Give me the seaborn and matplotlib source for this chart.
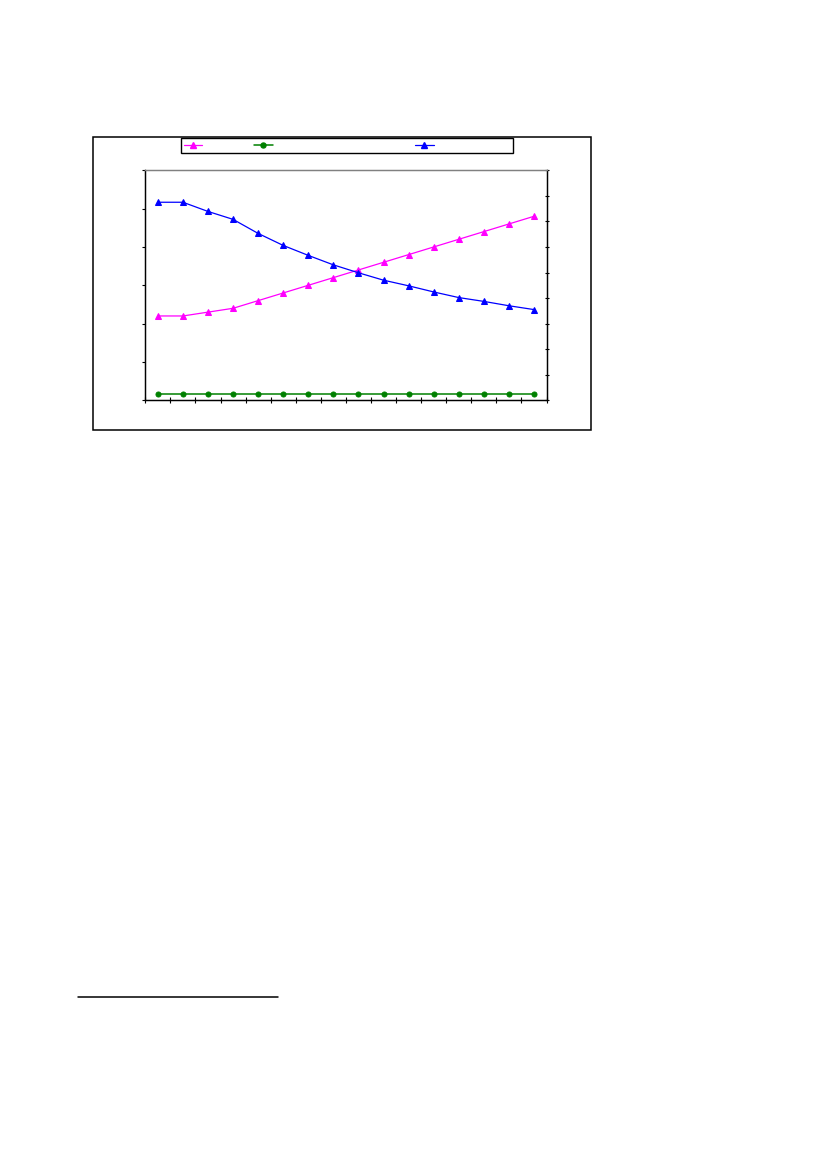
import numpy as np
import pandas as pd
import matplotlib
matplotlib.use("Agg")
import matplotlib.pyplot as plt
from matplotlib.patches import Rectangle
from matplotlib.lines import Line2D
import seaborn as sns

sns.set_style("white")
plt.rcParams['font.family'] = ['DejaVu Sans']

# 16 periods, no labels in the source picture
periods = list(range(1, 17))
pink_vals = [2.2, 2.2, 2.3, 2.4, 2.6, 2.8, 3.0, 3.2, 3.4, 3.6, 3.8, 4.0, 4.2, 4.4, 4.6, 4.8]
green_vals = [0.17, 0.17, 0.17, 0.17, 0.17, 0.17, 0.17, 0.17,
              0.17, 0.17, 0.17, 0.17, 0.17, 0.17, 0.17, 0.17]
blue_vals = [7.75, 7.75, 7.39, 7.08, 6.53, 6.06, 5.67, 5.30,
             4.99, 4.70, 4.48, 4.24, 4.02, 3.87, 3.70, 3.55]   # right axis

df = pd.DataFrame({"periodo": periods, "rosa": pink_vals, "verde": green_vals, "azul": blue_vals})

fig = plt.figure(figsize=(8.26, 11.69), dpi=100)
W, H = 826, 1169

# outer chart frame
fig.patches.append(Rectangle((93 / W, 1 - 430.3 / H), (591 - 93) / W, (430.3 - 136.7) / H,
                             transform=fig.transFigure, fill=False, ec="black", lw=1.1))
# footnote rule
fig.add_artist(Line2D([78.3 / W, 278.3 / W], [1 - 997 / H, 1 - 997 / H],
                      transform=fig.transFigure, color="black", lw=1.1))

ax = fig.add_axes([145.3 / W, 1 - 400.3 / H, (546.5 - 145.3) / W, (400.3 - 170.3) / H])
ax2 = ax.twinx()

sns.lineplot(data=df, x="periodo", y="rosa", ax=ax, color="#FF00FF", marker="^",
             markersize=5, markeredgecolor="#FF00FF", lw=0.9)
sns.lineplot(data=df, x="periodo", y="verde", ax=ax, color="#008000", marker="o",
             markersize=3.6, markeredgecolor="#008000", lw=1.1)
sns.lineplot(data=df, x="periodo", y="azul", ax=ax2, color="#0000FF", marker="^",
             markersize=5, markeredgecolor="#0000FF", lw=0.9)

ax.set_xlim(0.5, 16.5)
ax.set_ylim(0, 6)
ax2.set_ylim(0, 9)
ax.set_xticks(np.arange(0.5, 17, 1))
ax.set_yticks(np.arange(0, 7, 1))
ax2.set_yticks(np.arange(0, 10, 1))
for a in (ax, ax2):
    a.set_xlabel("")
    a.set_ylabel("")
    a.set_xticklabels([])
    a.set_yticklabels([])
    for s in a.spines.values():
        s.set_color("black")
        s.set_linewidth(0.9)
    a.spines["top"].set_color("#808080")
ax.tick_params(axis="y", direction="out", length=2.5, width=0.8, color="black", left=True)
ax.tick_params(axis="x", direction="inout", length=4, width=0.8, color="black", bottom=True)
ax2.tick_params(axis="y", direction="inout", length=3.5, width=0.8, color="black", right=True)

handles = [Line2D([], [], color="#FF00FF", marker="^", markersize=5, lw=0.9),
           Line2D([], [], color="#008000", marker="o", markersize=3.6, lw=1.1),
           Line2D([], [], color="#0000FF", marker="^", markersize=5, lw=0.9)]
# blank legend labels (the source shows no text), widths set by spacing characters
labels = ["\u00a0" * 14 + "\u2009", "\u00a0" * 40 + "\u2009", "\u00a0" * 22]
leg = fig.legend(handles, labels, loc="upper left", bbox_to_anchor=(181.3 / W, 1 - 138.3 / H),
                 ncol=3, fontsize=8, handlelength=1.7, handletextpad=0, columnspacing=0,
                 borderpad=0.2, borderaxespad=0, fancybox=False, framealpha=1,
                 edgecolor="black")
leg.get_frame().set_linewidth(1.0)

fig.savefig("out.png", dpi=100)
